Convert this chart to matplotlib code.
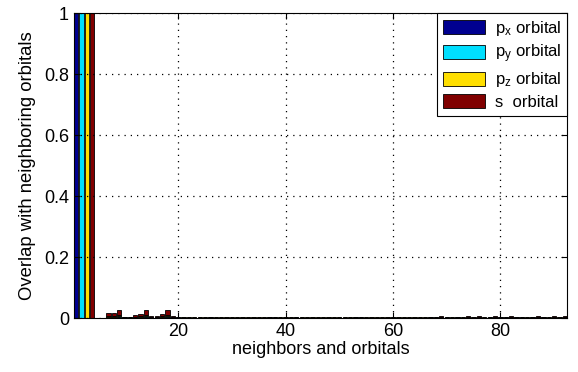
import numpy as np
import matplotlib
matplotlib.use("Agg")
import matplotlib.pyplot as plt

plt.rcParams['font.family'] = ['Liberation Sans', 'DejaVu Sans']
plt.rcParams['mathtext.default'] = 'regular'

# overlap of each orbital with neighbour orbital number 1..92
px = [1.0, 0, 0, 0, 0, 0, 0.002, 0.002, 0.003, 0.001,
      0.001, 0.001, 0.002, 0.003, 0.001, 0.001, 0.002, 0.003, 0.001, 0.001,
      0, 0, 0, 0, 0, 0.001, 0, 0, 0, 0,
      0, 0, 0, 0, 0, 0, 0.001, 0.001, 0, 0,
      0, 0.001, 0, 0, 0, 0, 0, 0, 0, 0,
      0, 0, 0.001, 0.001, 0, 0, 0, 0, 0, 0.001,
      0, 0, 0, 0, 0, 0, 0.001, 0.001, 0.001, 0.001,
      0, 0.001, 0, 0.001, 0, 0.001, 0, 0.001, 0.001, 0.001,
      0.001, 0.001, 0.001, 0.001, 0, 0.001, 0.001, 0.001, 0, 0.001,
      0, 0.001]
py = [0, 1.0, 0, 0, 0, 0, 0.002, 0.002, 0.003, 0.001,
      0.001, 0.002, 0.002, 0.003, 0.001, 0.002, 0.002, 0.003, 0.002, 0.001,
      0.001, 0.001, 0.001, 0.001, 0.001, 0.001, 0.001, 0.001, 0.001, 0.001,
      0.001, 0.001, 0.001, 0.001, 0.001, 0.001, 0.001, 0.001, 0.001, 0.001,
      0.001, 0.001, 0.001, 0.001, 0.001, 0.001, 0.001, 0.001, 0.001, 0.001,
      0.001, 0.001, 0.001, 0.001, 0.001, 0.001, 0.001, 0.001, 0.001, 0.001,
      0.001, 0.001, 0.001, 0.001, 0.001, 0.001, 0.001, 0.001, 0.001, 0.001,
      0.001, 0.001, 0.001, 0.001, 0.001, 0.001, 0.001, 0.001, 0.001, 0.001,
      0.001, 0.001, 0.001, 0.001, 0.001, 0.001, 0.001, 0.001, 0.001, 0.001,
      0.001, 0.001]
pz = [0, 0, 1.0, 0, 0, 0, 0.004, 0.004, 0.004, 0.001,
      0.001, 0.002, 0.003, 0.004, 0.002, 0.002, 0.003, 0.004, 0.002, 0.001,
      0.001, 0.001, 0.001, 0.001, 0.001, 0.001, 0.001, 0.001, 0.001, 0.001,
      0.001, 0.001, 0.001, 0.001, 0.001, 0.001, 0.001, 0.001, 0.001, 0.001,
      0.001, 0.001, 0.001, 0.001, 0.001, 0.001, 0.001, 0.001, 0.001, 0.001,
      0.001, 0.001, 0.001, 0.001, 0.001, 0.001, 0.001, 0.001, 0.001, 0.001,
      0.001, 0.001, 0.001, 0.001, 0.001, 0.001, 0.001, 0.001, 0.002, 0.001,
      0.001, 0.001, 0.001, 0.001, 0.001, 0.001, 0.001, 0.001, 0.001, 0.001,
      0.001, 0.001, 0.001, 0.001, 0.001, 0.001, 0.001, 0.001, 0.001, 0.001,
      0.001, 0.001]
s = [0, 0, 0, 1.0, 0, 0, 0.008, 0.008, 0.016, 0.001,
     0.002, 0.005, 0.006, 0.016, 0.002, 0.003, 0.006, 0.015, 0.002, 0.001,
     0, 0.001, 0, 0.001, 0, 0.002, 0, 0.001, 0, 0.001,
     0, 0.001, 0.001, 0, 0.001, 0, 0.001, 0.002, 0, 0.001,
     0, 0.001, 0.001, 0, 0.001, 0, 0.001, 0, 0.001, 0,
     0.001, 0.001, 0.001, 0.001, 0.001, 0, 0.001, 0, 0.001, 0.001,
     0.001, 0, 0.001, 0.001, 0, 0.001, 0.001, 0.002, 0.003, 0.001,
     0.001, 0.002, 0.001, 0.003, 0.001, 0.003, 0.001, 0.002, 0.003, 0.002,
     0.001, 0.003, 0.001, 0.002, 0.001, 0.001, 0.003, 0.001, 0.001, 0.003,
     0.001, 0.004]

labels = ['p$_x$ orbital', 'p$_y$ orbital', 'p$_z$ orbital', 's  orbital']
colors = ['#000090', '#00DFFF', '#FFDF00', '#800000']

idx = np.arange(1, len(px) + 1)
series = [np.array(px), np.array(py), np.array(pz), np.array(s)]

fig = plt.figure(figsize=(5.78, 3.72), dpi=100)
ax = fig.add_axes([0.128, 0.145, 0.853, 0.82])

bottom = np.zeros(len(idx))
for vals, lab, col in zip(series, labels, colors):
    ax.bar(idx, vals, width=0.8, bottom=bottom, color=col, edgecolor='black',
           linewidth=0.6, label=lab)
    bottom = bottom + vals

ax.set_xlim(0.6, 92.4)
ax.set_ylim(0, 1)
ax.set_xticks([20, 40, 60, 80])
ax.set_yticks([0, 0.2, 0.4, 0.6, 0.8, 1])
ax.set_yticklabels(['0', '0.2', '0.4', '0.6', '0.8', '1'])
ax.tick_params(direction='in', top=True, right=True, labelsize=13, length=4)
ax.grid(True, linestyle=(0, (1, 4)), color='black', linewidth=0.9)
ax.set_axisbelow(False)
ax.set_xlabel('neighbors and orbitals', fontsize=13, labelpad=1)
ax.set_ylabel('Overlap with neighboring orbitals', fontsize=13.3, labelpad=6)

leg = ax.legend(loc='upper right', fontsize=12, frameon=True, fancybox=False,
                edgecolor='black', framealpha=1, borderaxespad=0,
                handlelength=2.5, handleheight=0.9, labelspacing=0.3,
                borderpad=0.35, handletextpad=0.6)
leg.get_frame().set_linewidth(0.8)

plt.savefig('out.png', dpi=100)
